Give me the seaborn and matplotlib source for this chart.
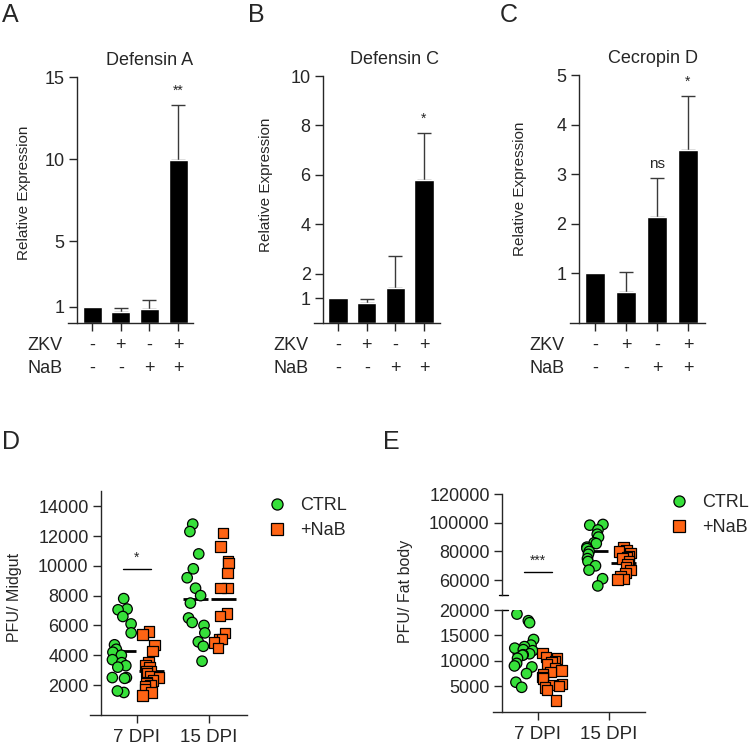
import numpy as np
import pandas as pd
import matplotlib
matplotlib.use("Agg")
import matplotlib.pyplot as plt
from matplotlib.lines import Line2D
import seaborn as sns

# ---- data: qPCR panels A-C ----
conditions = ["-/-", "+/-", "-/+", "+/+"]
zkv_signs = ["-", "+", "-", "+"]
nab_signs = ["-", "-", "+", "+"]

defA_mean = [1.0, 0.70, 0.87, 9.95]
defA_err = [0.0, 0.24, 0.53, 3.35]
defA_sig = ["", "", "", "**"]

defC_mean = [1.0, 0.83, 1.40, 5.80]
defC_err = [0.0, 0.15, 1.30, 1.90]
defC_sig = ["", "", "", "*"]

cecD_mean = [1.0, 0.63, 2.13, 3.49]
cecD_err = [0.0, 0.40, 0.80, 1.09]
cecD_sig = ["", "", "ns", "*"]

# ---- data: PFU panels D-E ----
days = ["7 DPI", "15 DPI"]
groups = ["CTRL", "+NaB"]

mid_ctrl_7 = [7800, 7100, 7050, 6600, 6100, 5500, 4700, 4400, 4200, 4000,
              3700, 3500, 3300, 3200, 2500, 2450, 2500, 1500, 1600]
mid_nab_7 = [5600, 5400, 4700, 4300, 3500, 3300, 3200, 2900, 2900, 2800,
             2600, 2500, 2300, 2200, 2100, 2000, 1900, 1700, 1500, 1300]
mid_ctrl_15 = [12800, 12300, 10800, 9800, 9200, 8500, 8000, 7500, 6500, 6200,
               6000, 5500, 4900, 4600, 3600]
mid_nab_15 = [12200, 11300, 10300, 10200, 9500, 8500, 8500, 6800, 6650, 5500,
              5100, 5100, 4850, 4500]

fat_ctrl_7 = [19200, 17900, 17500, 14200, 13100, 12800, 12500, 12200, 12000, 11400,
              11200, 11100, 10500, 9500, 9000, 8800, 7500, 5800, 4800]
fat_nab_7 = [11500, 10800, 10500, 10000, 9700, 9400, 8500, 8100, 7800, 7300,
             6800, 6500, 5500, 5200, 5000, 4800, 4300, 2200]
fat_ctrl_15 = [98800, 98300, 95000, 92000, 90000, 86000, 85500, 83000, 82000,
               80000, 78000, 75000, 73000, 70000, 67000, 61000, 56000]
fat_nab_15 = [83000, 81000, 80000, 79000, 77000, 76000, 75000, 73000, 71000,
              69000, 67000, 65000, 63000, 61000, 60500]

mid_sig_y, mid_sig = 9800, "*"
fat_sig_y, fat_sig = 65800, "***"

green = "#36E03A"
orange = "#FF6414"
palette = {"CTRL": green, "+NaB": orange}

sns.set_theme(style="ticks")
plt.rcParams["font.family"] = ["Liberation Sans", "DejaVu Sans"]
plt.rcParams["axes.linewidth"] = 1.0
plt.rcParams["xtick.major.width"] = 1.0
plt.rcParams["ytick.major.width"] = 1.0
np.random.seed(3)  # strip jitter only

fig = plt.figure(figsize=(7.5, 7.45), dpi=100)


def long_df(c7, n7, c15, n15):
    parts = []
    for day, grp, vals in [("7 DPI", "CTRL", c7), ("7 DPI", "+NaB", n7),
                           ("15 DPI", "CTRL", c15), ("15 DPI", "+NaB", n15)]:
        parts.append(pd.DataFrame({"day": day, "group": grp, "pfu": vals}))
    return pd.concat(parts, ignore_index=True)


def bar_panel(rect, xlim, means, errs, sigs, title, title_x, yticks, ylab_x, ylab_y):
    ax = fig.add_axes(rect)
    df = pd.DataFrame({"cond": conditions, "expr": means})
    sns.barplot(data=df, x="cond", y="expr", color="black", width=0.67,
                errorbar=None, ax=ax)
    pos = np.arange(len(conditions))
    m = np.array(errs) > 0
    ax.errorbar(pos[m], np.array(means)[m], yerr=[np.zeros(m.sum()), np.array(errs)[m]],
                fmt="none", ecolor="#3a3a3a", elinewidth=1.0, capsize=5,
                capthick=1.0, zorder=0.5)
    for i, s in enumerate(sigs):
        if s:
            ax.annotate(s, xy=(i, means[i] + errs[i]), xytext=(0, 5),
                        textcoords="offset points", ha="center", va="bottom",
                        fontsize=11 if s == "ns" else 10)
    ax.set_xlim(*xlim)
    ax.set_ylim(0, yticks[-1])
    ax.set_yticks(yticks)
    ax.spines["left"].set_position(("data", -0.52))
    sns.despine(ax=ax)
    ax.tick_params(axis="x", labelbottom=False, length=6, direction="out")
    ax.tick_params(axis="y", labelsize=13, length=6, direction="out", pad=3)
    ax.set_xlabel("")
    ax.set_ylabel("Relative Expression", fontsize=11)
    ax.yaxis.set_label_coords(ylab_x, ylab_y)
    ax.annotate(title, xy=(title_x, 1.0), xycoords="axes fraction", xytext=(0, 9),
                textcoords="offset points", ha="center", va="baseline", fontsize=13)
    for row, (name, signs) in enumerate([("ZKV", zkv_signs), ("NaB", nab_signs)]):
        dy = -16 - 16.5 * row
        ax.annotate(name, xy=(0, 0), xycoords="axes fraction", xytext=(-29, dy),
                    textcoords="offset points", ha="left", va="center", fontsize=13)
        for i, s in enumerate(signs):
            ax.annotate(s, xy=(i, 0), xycoords=("data", "axes fraction"),
                        xytext=(0, dy), textcoords="offset points",
                        ha="center", va="center", fontsize=13)
    return ax


bar_panel([0.0907, 0.5664, 0.1667, 0.3302], (-0.84, 3.52), defA_mean, defA_err,
          defA_sig, "Defensin A", 0.65, [1, 5, 10, 15], -0.30, 0.53)
bar_panel([0.4187, 0.5664, 0.168, 0.3315], (-0.84, 3.56), defC_mean, defC_err,
          defC_sig, "Defensin C", 0.635, [1, 2, 4, 6, 8, 10], -0.325, 0.56)
bar_panel([0.76, 0.5664, 0.18, 0.3329], (-0.81, 3.55), cecD_mean, cecD_err,
          cecD_sig, "Cecropin D", 0.615, [1, 2, 3, 4, 5], -0.32, 0.54)


def scatter(ax, df, jitter=0.3):
    for grp, mk in [("CTRL", "o"), ("+NaB", "s")]:
        sub = df[df["group"] == grp]
        sns.stripplot(data=sub, x="day", y="pfu", hue="group", order=days,
                      hue_order=groups, palette=palette, dodge=True, marker=mk,
                      jitter=jitter, size=7.5, edgecolor="black", linewidth=0.9,
                      legend=False, ax=ax)
    sns.pointplot(data=df, x="day", y="pfu", hue="group", order=days,
                  hue_order=groups, palette={"CTRL": "black", "+NaB": "black"},
                  dodge=0.4, errorbar=None, markers="_", linestyle="none",
                  markersize=18, markeredgewidth=2, legend=False, ax=ax)
    ax.set_xlabel("")
    ax.set_ylabel("")


def style_scatter_axis(ax, xlim, show_x=True):
    ax.set_xlim(*xlim)
    ax.spines["left"].set_position(("data", -0.5))
    sns.despine(ax=ax, bottom=not show_x)
    ax.tick_params(axis="y", labelsize=13, length=6, direction="out", pad=3)
    if show_x:
        ax.tick_params(axis="x", labelsize=13.5, length=6, direction="out", pad=4)
    else:
        ax.tick_params(axis="x", bottom=False, labelbottom=False)


# ---- panel D ----
mid_df = long_df(mid_ctrl_7, mid_nab_7, mid_ctrl_15, mid_nab_15)
axD = fig.add_axes([0.12, 0.0405, 0.2093, 0.300])
scatter(axD, mid_df)
axD.set_ylim(0, 15000)
axD.set_yticks(range(2000, 14001, 2000))
style_scatter_axis(axD, (-0.653, 1.528))
axD.plot([-0.2, 0.2], [mid_sig_y, mid_sig_y], color="black", lw=1)
axD.annotate(mid_sig, xy=(0, mid_sig_y), xytext=(0, 3), textcoords="offset points",
             ha="center", va="bottom", fontsize=10)
axD.set_ylabel("PFU/ Midgut", fontsize=11.5)
axD.yaxis.set_label_coords(-0.433, 0.525)

# ---- panel E (broken y axis) ----
fat_df = long_df(fat_ctrl_7, fat_nab_7, fat_ctrl_15, fat_nab_15)
e_xlim = (-0.63, 1.51)
axEt = fig.add_axes([0.6573, 0.2020, 0.2027, 0.1349])
axEb = fig.add_axes([0.6573, 0.0447, 0.2027, 0.1365])
scatter(axEt, fat_df[fat_df["day"] == "15 DPI"], jitter=0.25)
scatter(axEb, fat_df[fat_df["day"] == "7 DPI"], jitter=0.3)
axEt.set_ylim(50000, 120000)
axEt.set_yticks(range(60000, 120001, 20000))
axEb.set_ylim(0, 20000)
axEb.set_yticks(range(5000, 20001, 5000))
style_scatter_axis(axEt, e_xlim, show_x=False)
style_scatter_axis(axEb, e_xlim, show_x=True)
axEt.plot([-0.54, -0.42], [50000, 50000], color="black", lw=1, clip_on=False)
axEb.plot([-0.5, -0.42], [20000, 20000], color="black", lw=1, clip_on=False)
axEt.plot([-0.2, 0.2], [fat_sig_y, fat_sig_y], color="black", lw=1)
axEt.annotate(fat_sig, xy=(0, fat_sig_y), xytext=(0, 3), textcoords="offset points",
              ha="center", va="bottom", fontsize=10)
fig.text(413 / 750, 1 - 591 / 745, "PFU/ Fat body", rotation=90, ha="right",
         va="center", fontsize=11.5)

# ---- legends ----
handles = [Line2D([], [], marker="o", ls="", mfc=green, mec="black", mew=0.9, ms=8),
           Line2D([], [], marker="s", ls="", mfc=orange, mec="black", mew=0.9, ms=8)]
for left, top in [(268 / 750, 1 - 497 / 745), (670 / 750, 1 - 494 / 745)]:
    fig.legend(handles, groups, loc="upper left", bbox_to_anchor=(left, top),
               frameon=False, fontsize=13, handlelength=1.0, handletextpad=0.8,
               labelspacing=0.45, borderpad=0, borderaxespad=0)

# ---- panel letters ----
for letter, x, y in [("A", 2, 3), ("B", 248, 3), ("C", 500, 3), ("D", 2, 430), ("E", 383, 430)]:
    fig.text(x / 750, 1 - y / 745, letter, fontsize=18, ha="left", va="top")

fig.savefig("out.png", dpi=100)
